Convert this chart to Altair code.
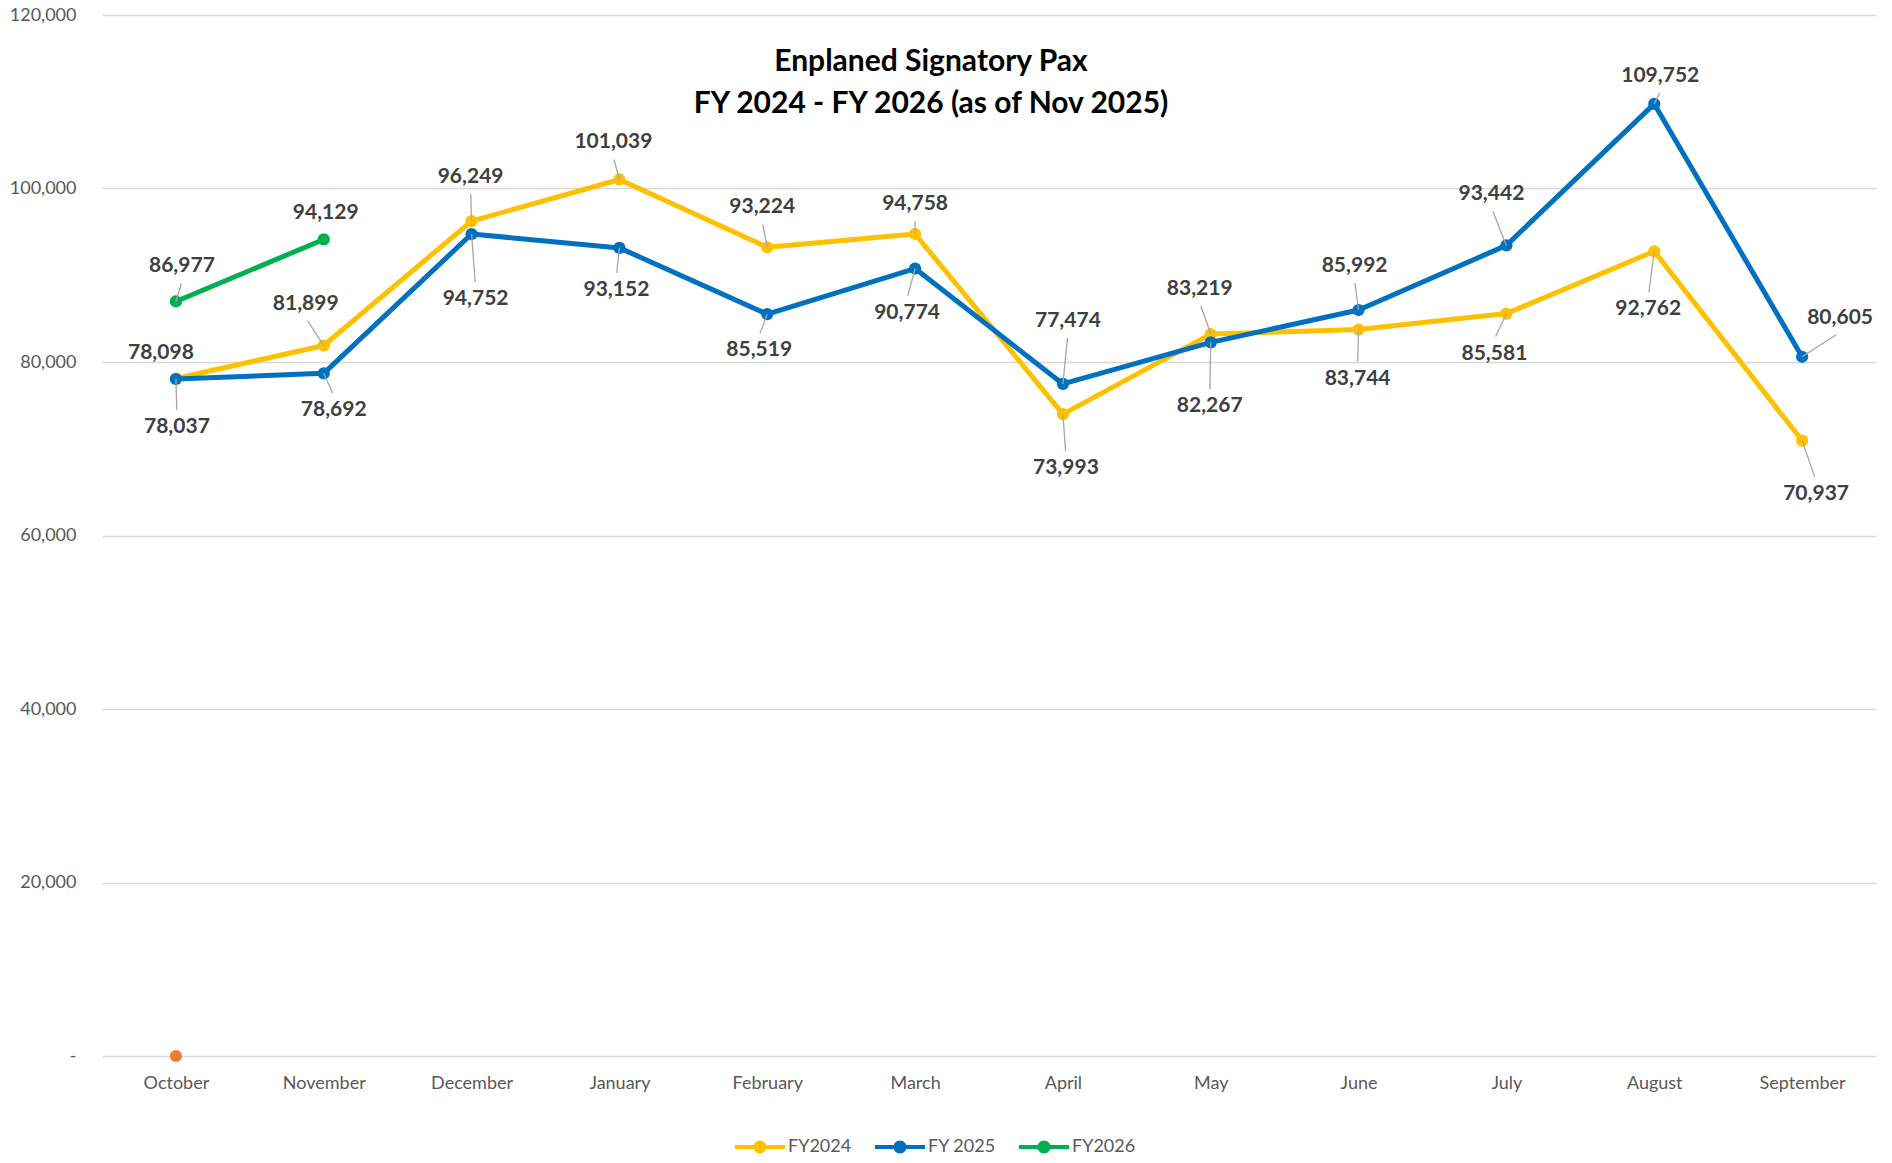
import altair as alt
import pandas as pd

months = ["October", "November", "December", "January", "February", "March",
          "April", "May", "June", "July", "August", "September"]
fy2024 = [78098, 81899, 96249, 101039, 93224, 94758, 73993, 83219, 83744, 85581, 92762, 70937]
fy2025 = [78037, 78692, 94752, 93152, 85519, 90774, 77474, 82267, 85992, 93442, 109752, 80605]
fy2026 = [86977, 94129]
extra_vals = [0]  # orange marker at October

series_names = ["FY2024", "FY 2025", "FY2026"]
series_colors = ["#FFC000", "#0070C0", "#00B050"]
extra_color = "#ED7D31"

# data-label pixel offsets (dx, dy) from each point
off2024 = [(-15, -25), (-18, -42), (-1, -44), (-6, -37), (-5, -40), (0, -30),
           (3, 54), (-11, -45), (-1, 49), (-12, 40), (-6, 58), (14, 53)]
off2025 = [(1, 48), (10, 37), (4, 65), (-3, 42), (-8, 36), (-8, 44),
           (5, -63), (-1, 64), (-4, -44), (-15, -51), (6, -28), (38, -39)]
off2026 = [(6, -35), (2, -26)]

PLOT_W, PLOT_H, Y_MAX = 1774, 1041, 120000
FONT = "Lato"

rows = []
for name, vals, offs in zip(series_names, [fy2024, fy2025, fy2026], [off2024, off2025, off2026]):
    for i, (v, (dx, dy)) in enumerate(zip(vals, offs)):
        rows.append({"series": name, "idx": i, "month": months[i], "value": v, "dx": dx, "dy": dy})
df = pd.DataFrame(rows)
df_extra = pd.DataFrame({"idx": list(range(len(extra_vals))), "value": extra_vals})

month_js = "[" + ",".join("'%s'" % m for m in months) + "]"
x_scale = alt.Scale(domain=[-0.5, 11.5], nice=False, zero=False)
y_scale = alt.Scale(domain=[0, Y_MAX], nice=False, zero=True)
x_axis = alt.Axis(values=list(range(12)), labelExpr=month_js + "[datum.value]", title=None,
                  grid=False, ticks=False, domain=False, labelPadding=18)
y_axis = alt.Axis(values=[0, 20000, 40000, 60000, 80000, 100000, 120000],
                  labelExpr="datum.value == 0 ? '-\u00a0\u00a0\u00a0' : format(datum.value, ',')",
                  title=None, grid=True, ticks=False, domain=False, labelPadding=26)

def X(field):
    return alt.X(field, type="quantitative", scale=x_scale, axis=x_axis)

def Y(field):
    return alt.Y(field, type="quantitative", scale=y_scale, axis=y_axis)

base = alt.Chart(df)
legend_path = ("M-1,-0.08H1V0.08H-1Z "
               "M0.26,0A0.26,0.26,0,1,1,-0.26,0A0.26,0.26,0,1,1,0.26,0Z")
fill_enc = alt.Fill("series:N", scale=alt.Scale(domain=series_names, range=series_colors),
                    legend=alt.Legend(orient="none", legendX=633, legendY=1107, direction="horizontal",
                                      title=None, symbolType=legend_path, symbolSize=2500,
                                      symbolStrokeWidth=0, symbolOpacity=1, labelFont=FONT,
                                      labelFontSize=18, labelColor="#595959", labelOffset=3,
                                      columnPadding=23, padding=0))

layers = []
for name, col in zip(series_names, series_colors):
    sub = base.transform_filter(alt.datum.series == name)
    layers.append(sub.mark_line(strokeWidth=5, strokeJoin="round", color=col).encode(
        x=X("idx"), y=Y("value")))
    layers.append(sub.mark_point(filled=True, size=150, opacity=1, strokeWidth=0).encode(
        x=X("idx"), y=Y("value"), fill=fill_enc))

extra = alt.Chart(df_extra).mark_point(filled=True, size=150, opacity=1, color=extra_color).encode(
    x=X("idx"), y=Y("value"))
layers.append(extra)

calc = base.transform_calculate(
    lx="datum.idx + datum.dx * %f" % (12.0 / PLOT_W),
    ly="datum.value - datum.dy * %f" % (Y_MAX / PLOT_H),
    ex="datum.idx + datum.dx * 0.9 * %f" % (12.0 / PLOT_W),
    ey="datum.value - (datum.dy - (datum.dy > 0 ? 17 : -17)) * %f" % (Y_MAX / PLOT_H),
)
leaders = calc.transform_filter("abs(datum.dy) >= 28").mark_rule(color="#A6A6A6", strokeWidth=1.3).encode(
    x=X("idx"), y=Y("value"), x2="ex:Q", y2="ey:Q")
labels = calc.mark_text(font=FONT, fontSize=21, fontWeight="bold", color="#404040",
                        align="center", baseline="middle").encode(
    x=X("lx"), y=Y("ly"), text=alt.Text("value:Q", format=","))
layers += [leaders, labels]

title = alt.Chart(pd.DataFrame({"k": [0]})).mark_text(
    font=FONT, fontSize=30, fontWeight="bold", color="#000000", lineHeight=42,
    align="center", baseline="middle").encode(
    x=alt.value(829), y=alt.value(47),
    text=alt.value(["Enplaned Signatory Pax", "FY 2024 - FY 2026 (as of Nov 2025)"]))
layers.append(title)

chart = alt.layer(*layers).properties(
    width=PLOT_W, height=PLOT_H,
    autosize=alt.AutoSizeParams(type="none"),
    padding={"left": 94, "top": 7, "right": 8, "bottom": 99},
).configure_view(stroke=None).configure_axis(
    labelFont=FONT, labelFontSize=18, labelColor="#595959",
    gridColor="#D9D9D9", gridWidth=1.3,
)

chart.save("out.html", embed_options={"renderer": "svg", "actions": False})
